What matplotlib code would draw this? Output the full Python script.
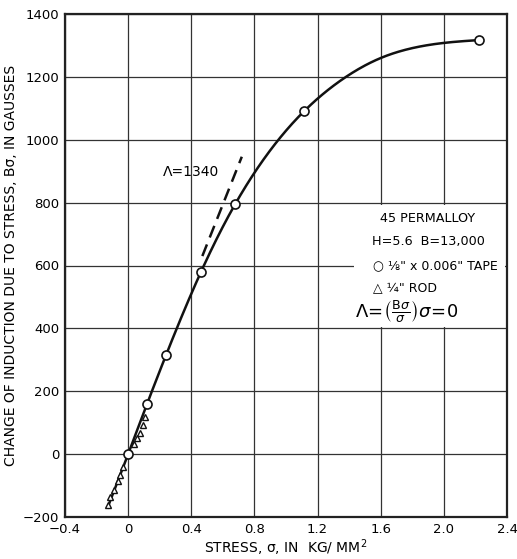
import numpy as np
import matplotlib
matplotlib.use("Agg")
import matplotlib.pyplot as plt
from matplotlib.patches import Rectangle

plt.rcParams['font.family'] = ['DejaVu Sans']
plt.rcParams['mathtext.fontset'] = 'dejavusans'

# Data
tape_x = [0.0, 0.12, 0.24, 0.46, 0.68, 1.117, 2.22]
tape_y = [0, 160, 315, 578, 797, 1092, 1317]

rod_x = [-0.125, -0.114, -0.089, -0.065, -0.051, -0.03, 0.034, 0.055, 0.072, 0.097, 0.108]
rod_y = [-162, -137, -114, -85, -67, -40, 31, 50, 68, 92, 118]

curve_x = [-0.13, 0.0, 0.12, 0.24, 0.46, 0.68, 0.80, 1.117, 1.38, 1.60, 2.00, 2.22]
curve_y = [-170, 0, 160, 315, 578, 797, 895, 1092, 1200, 1260, 1308, 1317]

tangent_x = [0.47, 0.72]
tangent_y = [630, 946]

xticks = [-0.4, 0, 0.4, 0.8, 1.2, 1.6, 2.0, 2.4]
xticklabels = ['\u22120.4', '0', '0.4', '0.8', '1.2', '1.6', '2.0', '2.4']
yticks = [-200, 0, 200, 400, 600, 800, 1000, 1200, 1400]
yticklabels = ['\u2212200', '0', '200', '400', '600', '800', '1000', '1200', '1400']


def smooth_curve(x, y, n=500):
    """Parametric natural cubic spline through the given points (drawing only)."""
    x = np.asarray(x, float); y = np.asarray(y, float)
    xs_, ys_ = x / 2.8, y / 1600.0
    t = np.concatenate([[0], np.cumsum(np.hypot(np.diff(xs_), np.diff(ys_)))])

    def nat_spline(t, v, tq):
        k = len(t); h = np.diff(t)
        A = np.zeros((k, k)); b = np.zeros(k)
        A[0, 0] = A[-1, -1] = 1
        for i in range(1, k - 1):
            A[i, i - 1] = h[i - 1]; A[i, i] = 2 * (h[i - 1] + h[i]); A[i, i + 1] = h[i]
            b[i] = 3 * ((v[i + 1] - v[i]) / h[i] - (v[i] - v[i - 1]) / h[i - 1])
        c = np.linalg.solve(A, b)
        bb = (np.diff(v) / h) - h * (2 * c[:-1] + c[1:]) / 3
        d = np.diff(c) / (3 * h)
        idx = np.clip(np.searchsorted(t, tq) - 1, 0, k - 2)
        dt = tq - t[idx]
        return v[idx] + bb[idx] * dt + c[idx] * dt**2 + d[idx] * dt**3

    tq = np.linspace(0, t[-1], n)
    return nat_spline(t, x, tq), nat_spline(t, y, tq)


fig = plt.figure(figsize=(5.17, 5.59), dpi=100)
ax = fig.add_axes([65 / 517, 1 - 517 / 559, 442 / 517, 503 / 559])

ax.set_xlim(-0.4, 2.4)
ax.set_ylim(-200, 1400)
ax.set_xticks(xticks)
ax.set_xticklabels(xticklabels)
ax.set_yticks(yticks)
ax.set_yticklabels(yticklabels)
ax.grid(True, color='#333333', linewidth=0.9)
ax.set_axisbelow(True)
ax.tick_params(length=0, labelsize=9.5, pad=4)
for s in ax.spines.values():
    s.set_linewidth(1.6)
    s.set_color('#222222')

cx, cy = smooth_curve(curve_x, curve_y)
ax.plot(cx, cy, color='#111111', lw=1.8, zorder=3)
ax.plot(tangent_x, tangent_y, color='#111111', lw=1.8, ls=(0, (5, 3)), zorder=3)

ax.plot(rod_x, rod_y, ls='none', marker='^', ms=5, mfc='white', mec='#111111', mew=1.0, zorder=4)
ax.plot(tape_x, tape_y, ls='none', marker='o', ms=6.5, mfc='white', mec='#111111', mew=1.2, zorder=5)

ax.text(0.22, 898, '\u039b=1340', fontsize=10, va='center', ha='left')

# annotation block with white background
ax.add_patch(Rectangle((1.43, 403), 0.96, 390, facecolor='white', edgecolor='none', zorder=2))
fs = 9.2
ax.text(1.895, 749, '45 PERMALLOY', fontsize=fs, ha='center', va='center', zorder=6)
ax.text(1.90, 676, 'H=5.6  B=13,000', fontsize=fs, ha='center', va='center', zorder=6)
ax.text(1.55, 600, '\u25cb \u215b" x 0.006" TAPE', fontsize=9, ha='left', va='center', zorder=6)
ax.text(1.55, 530, '\u25b3 \u00bc" ROD', fontsize=9, ha='left', va='center', zorder=6)
ax.text(1.44, 451, r'$\Lambda\!=\!\left(\frac{\mathrm{B}\sigma}{\sigma}\right)\sigma\!=\!0$',
        fontsize=13, ha='left', va='center', zorder=6)

ax.set_xlabel('STRESS, \u03c3, IN  KG/ MM$^2$', fontsize=10, labelpad=1)
ax.set_ylabel('CHANGE OF INDUCTION DUE TO STRESS, B\u03c3, IN GAUSSES', fontsize=10, labelpad=4)

fig.savefig('out.png', dpi=100)
